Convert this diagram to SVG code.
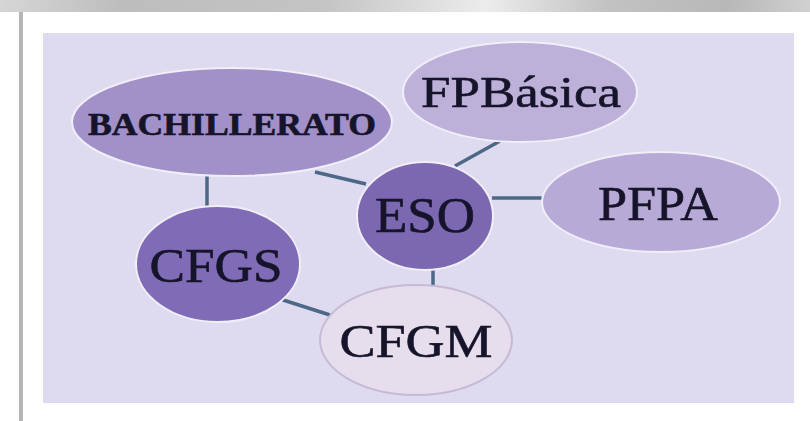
<svg xmlns="http://www.w3.org/2000/svg" width="810" height="421" viewBox="0 0 810 421">
<defs>
<linearGradient id="topband" x1="0" y1="0" x2="1" y2="0">
<stop offset="0" stop-color="#d6d6d6"/>
<stop offset="0.15" stop-color="#bdbdbd"/>
<stop offset="0.4" stop-color="#c4c4c4"/>
<stop offset="0.6" stop-color="#ececec"/>
<stop offset="0.75" stop-color="#c2c2c2"/>
<stop offset="0.9" stop-color="#b8b8b8"/>
<stop offset="1" stop-color="#d0d0d0"/>
</linearGradient>
</defs>
<style>
.lbl{font-family:"Liberation Serif","Times New Roman",serif;fill:#16142a;stroke:#16142a;stroke-width:0.6;text-anchor:middle}
.conn{stroke:#4d6787;stroke-width:3.5;fill:none}
.halo{stroke:#f0eef8;stroke-width:2}
</style>
<rect x="0" y="0" width="810" height="421" fill="#ffffff"/>
<rect x="0" y="0" width="810" height="12" fill="url(#topband)"/>
<rect x="19" y="12" width="4" height="409" fill="#b4b4b4"/>
<rect x="43" y="33" width="751" height="370" fill="#dedaef"/>
<g id="connectors">
<line class="conn" x1="315" y1="172" x2="366" y2="184"/>
<line class="conn" x1="207" y1="175" x2="207" y2="208"/>
<line class="conn" x1="500" y1="141" x2="455" y2="166"/>
<line class="conn" x1="492" y1="198" x2="543" y2="198"/>
<line class="conn" x1="433" y1="268" x2="433" y2="287"/>
<line class="conn" x1="280" y1="299" x2="330" y2="315"/>
</g>
<g id="bachillerato">
<ellipse class="halo" cx="232" cy="122" rx="160" ry="54" fill="#a290c9"/>
<text class="lbl" x="232" y="135" font-size="32" font-weight="bold" textLength="288" lengthAdjust="spacingAndGlyphs">BACHILLERATO</text>
</g>
<g id="fpbasica">
<ellipse class="halo" cx="520" cy="92" rx="117" ry="50" fill="#bdb1da"/>
<text class="lbl" x="521" y="107" font-size="44" textLength="200" lengthAdjust="spacingAndGlyphs">FPBásica</text>
</g>
<g id="eso">
<ellipse class="halo" cx="425" cy="216" rx="68" ry="54" fill="#7c68b1"/>
<text class="lbl" x="425" y="232" font-size="50" textLength="100" lengthAdjust="spacingAndGlyphs">ESO</text>
</g>
<g id="pfpa">
<ellipse class="halo" cx="661" cy="202" rx="119" ry="50" fill="#b7aad6"/>
<text class="lbl" x="658" y="220" font-size="48" textLength="120" lengthAdjust="spacingAndGlyphs">PFPA</text>
</g>
<g id="cfgs">
<ellipse class="halo" cx="218" cy="264" rx="82" ry="58" fill="#806cb6"/>
<text class="lbl" x="216" y="282" font-size="48" textLength="133" lengthAdjust="spacingAndGlyphs">CFGS</text>
</g>
<g id="cfgm">
<ellipse cx="416" cy="340" rx="96" ry="55" fill="#e6dded" stroke="#c6bad6" stroke-width="2"/>
<text class="lbl" x="416" y="357" font-size="47" textLength="153" lengthAdjust="spacingAndGlyphs">CFGM</text>
</g>
</svg>
